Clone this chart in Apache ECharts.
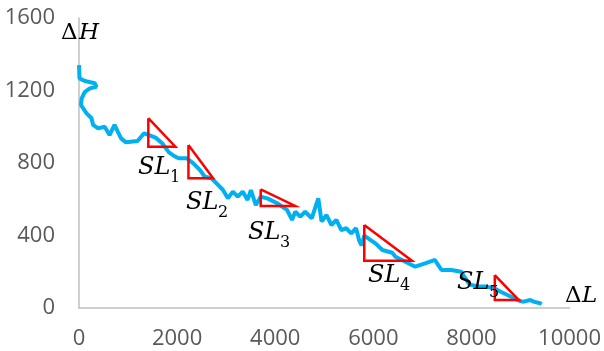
<!DOCTYPE html>
<html>
<head>
<meta charset="utf-8">
<script src="https://cdn.jsdelivr.net/npm/echarts@6/dist/echarts.min.js"></script>
<style>
html,body{margin:0;padding:0;background:#fff;}
#c{width:604px;height:351px;}
</style>
</head>
<body>
<div id="c"></div>
<script>
// Profile: horizontal distance ΔL and elevation ΔH
const pathL = [0,10,121,322,355,221,121,54,40,154,255,288,388,523,623,724,790,858,958,1193,1327,1427,1561,1695,1829,1930,2030,2197,2331,2466,2566,2700,2834,2935,3035,3136,3236,3337,3437,3504,3604,3704,3839,4040,4241,4342,4409,4510,4610,4744,4878,4945,5045,5146,5246,5347,5447,5548,5648,5714,5760,5815,5916,6050,6184,6385,6452,6653,6854,7055,7256,7323,7390,7591,7792,7860,7960,8100,8300,8462,8596,8797,8864,8998,9065,9199,9266,9400,9433];
const pathH = [1340,1267,1252,1240,1221,1212,1193,1157,1120,1074,1047,1010,991,1000,954,1010,973,936,914,921,964,954,940,909,860,840,826,826,798,761,724,716,679,651,605,642,614,642,596,651,568,614,605,578,541,486,531,504,531,495,605,477,513,458,486,430,440,412,440,370,345,400,380,355,320,305,283,255,228,246,265,237,210,210,200,170,130,120,118,109,90,63,54,38,35,44,35,26,22];

// Slope triangles SL1..SL5
const triNames = ['1','2','3','4','5'];
const triLeft  = [1413, 2231, 3704, 5815, 8476];
const triRight = [1964, 2734, 4408, 6788, 8965];
const triTop   = [1047, 899, 655, 458, 182];
const triBot   = [890, 716, 563, 261, 44];

const xTicks = [0, 2000, 4000, 6000, 8000, 10000];
const yTicks = [0, 400, 800, 1200, 1600];

const chart = echarts.init(document.getElementById('c'));

const series = [{
  type: 'line',
  data: pathL.map((l, i) => [l, pathH[i]]),
  showSymbol: false,
  lineStyle: { color: '#00B0F0', width: 4 },
  z: 2
}];
triNames.forEach((n, i) => {
  series.push({
    type: 'line',
    data: [[triLeft[i], triTop[i]], [triLeft[i], triBot[i]], [triRight[i], triBot[i]], [triLeft[i], triTop[i]]],
    showSymbol: false,
    lineStyle: { color: '#FF0000', width: 2.5, join: 'miter' },
    z: 3
  });
});

const serif = '"DejaVu Serif"';
// label positions (left x, cap middle y) in pixels
const labPos = [[138,167],[186,202],[248,232],[368,275],[457,282]];
const graphics = [];
labPos.forEach((p, i) => {
  graphics.push({ type: 'text', z: 10, style: { text: 'SL', x: p[0], y: p[1] + 1, font: 'italic 24px ' + serif, fill: '#000', textVerticalAlign: 'middle' } });
  graphics.push({ type: 'text', z: 10, style: { text: triNames[i], x: p[0] + 32, y: p[1] + 11, font: '16px ' + serif, fill: '#000', textVerticalAlign: 'middle' } });
});
graphics.push({ type: 'text', z: 10, style: { text: 'Δ', x: 61, y: 33, font: '23px ' + serif, fill: '#000', textVerticalAlign: 'middle' } });
graphics.push({ type: 'text', z: 10, style: { text: 'H', x: 79, y: 33, font: 'italic 23px ' + serif, fill: '#000', textVerticalAlign: 'middle' } });
graphics.push({ type: 'text', z: 10, style: { text: 'Δ', x: 565, y: 296, font: '23px ' + serif, fill: '#000', textVerticalAlign: 'middle' } });
graphics.push({ type: 'text', z: 10, style: { text: 'L', x: 582, y: 296, font: 'italic 23px ' + serif, fill: '#000', textVerticalAlign: 'middle' } });

chart.setOption({
  animation: false,
  backgroundColor: '#fff',
  grid: { left: 79, right: 29, top: 18, bottom: 43 },
  xAxis: {
    type: 'value', min: xTicks[0], max: xTicks[xTicks.length - 1], interval: 2000,
    axisLine: { show: true, lineStyle: { color: '#BFBFBF', width: 1.5 } },
    axisTick: { show: false },
    splitLine: { show: false },
    axisLabel: { color: '#595959', fontSize: 22, fontFamily: 'Open Sans', margin: 20, formatter: v => String(v) }
  },
  yAxis: {
    type: 'value', min: yTicks[0], max: yTicks[yTicks.length - 1], interval: 400,
    axisLine: { show: true, lineStyle: { color: '#BFBFBF', width: 1.5 } },
    axisTick: { show: false },
    splitLine: { show: false },
    axisLabel: { color: '#595959', fontSize: 22, fontFamily: 'Open Sans', margin: 24, formatter: v => String(v) }
  },
  series: series,
  graphic: graphics
});
</script>
</body>
</html>
